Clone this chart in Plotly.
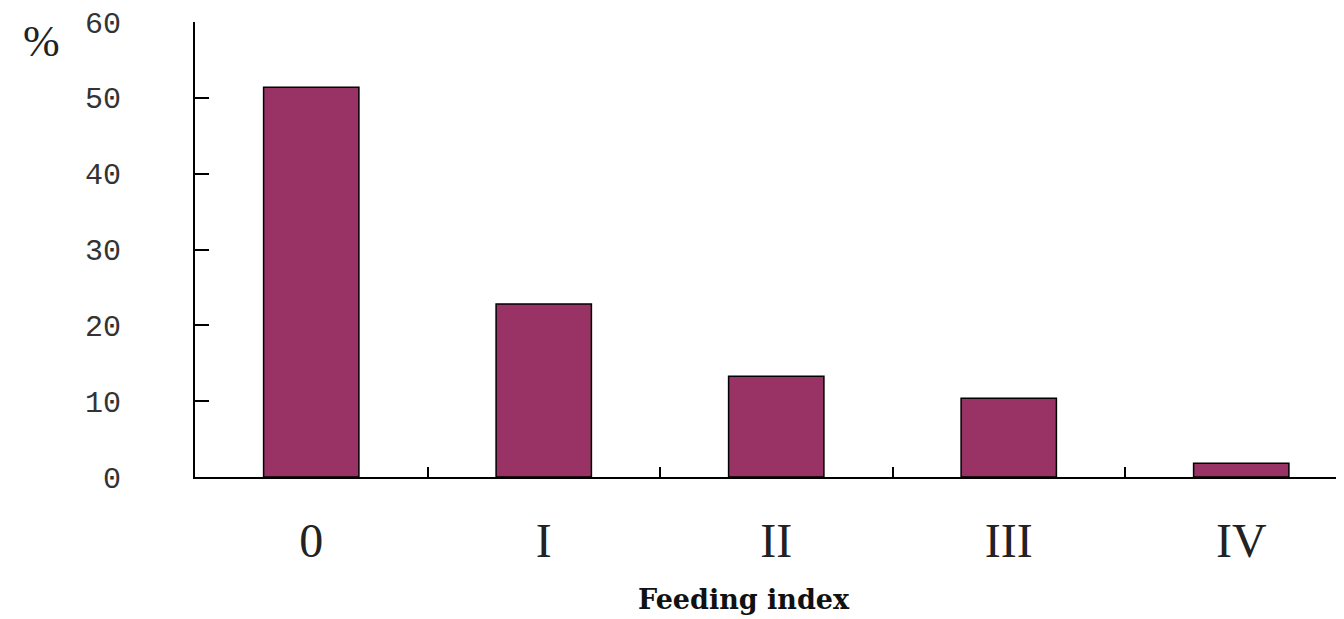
import plotly.graph_objects as go

categories = ["0", "I", "II", "III", "IV"]
values = [51.4, 22.8, 13.3, 10.4, 1.8]
y_ticks = [0, 10, 20, 30, 40, 50, 60]

x_pos = list(range(len(categories)))

# page body has an 8px margin; compensate so the figure lands like the reference
OFF = 8
W, H = 1344 - OFF, 619 - OFF
L, T, B = 195 - OFF, 22 - OFF, 619 - 477
plot_w = W - L
plot_h = H - T - B

fig = go.Figure()
fig.add_trace(go.Bar(
    x=x_pos, y=values, width=0.41,
    marker=dict(color="#993366", line=dict(color="black", width=1.5)),
    showlegend=False,
))

fig.update_layout(
    width=W, height=H,
    margin=dict(l=L, r=0, t=T, b=B, pad=0),
    plot_bgcolor="white", paper_bgcolor="white",
    xaxis=dict(
        range=[-0.5, -0.5 + plot_w / 232.5],
        tickmode="array", tickvals=x_pos, ticktext=categories,
        ticks="", showgrid=False, zeroline=False,
        showline=True, linecolor="black", linewidth=2,
        tickfont=dict(family="Liberation Serif", size=48, color="#222"),
        ticklabelstandoff=20,
        minor=dict(tickmode="array", tickvals=[0.5, 1.5, 2.5, 3.5],
                   ticks="inside", ticklen=10, tickwidth=2, tickcolor="black"),
    ),
    yaxis=dict(
        range=[0, 60], tickmode="array", tickvals=y_ticks,
        ticks="inside", ticklen=14, tickwidth=2, tickcolor="black",
        showgrid=False, zeroline=False,
        showline=True, linecolor="black", linewidth=2,
        tickfont=dict(family="Liberation Mono", size=30, color="#333"),
        ticklabelstandoff=66,
        ticklabeloverflow="allow",
    ),
    annotations=[
        dict(text="Feeding index", xref="paper", yref="paper",
             x=(744 - 195) / plot_w, y=-(599 - 477) / plot_h,
             xanchor="center", yanchor="middle", showarrow=False,
             font=dict(family="DejaVu Serif", size=27, color="#111", weight="bold")),
        dict(text="%", xref="paper", yref="paper",
             x=-(195 - 41) / plot_w, y=1 + (22 - 42) / plot_h,
             xanchor="center", yanchor="middle", showarrow=False,
             font=dict(family="Liberation Serif", size=44, color="#222")),
    ],
)

fig.write_html("out.html")
